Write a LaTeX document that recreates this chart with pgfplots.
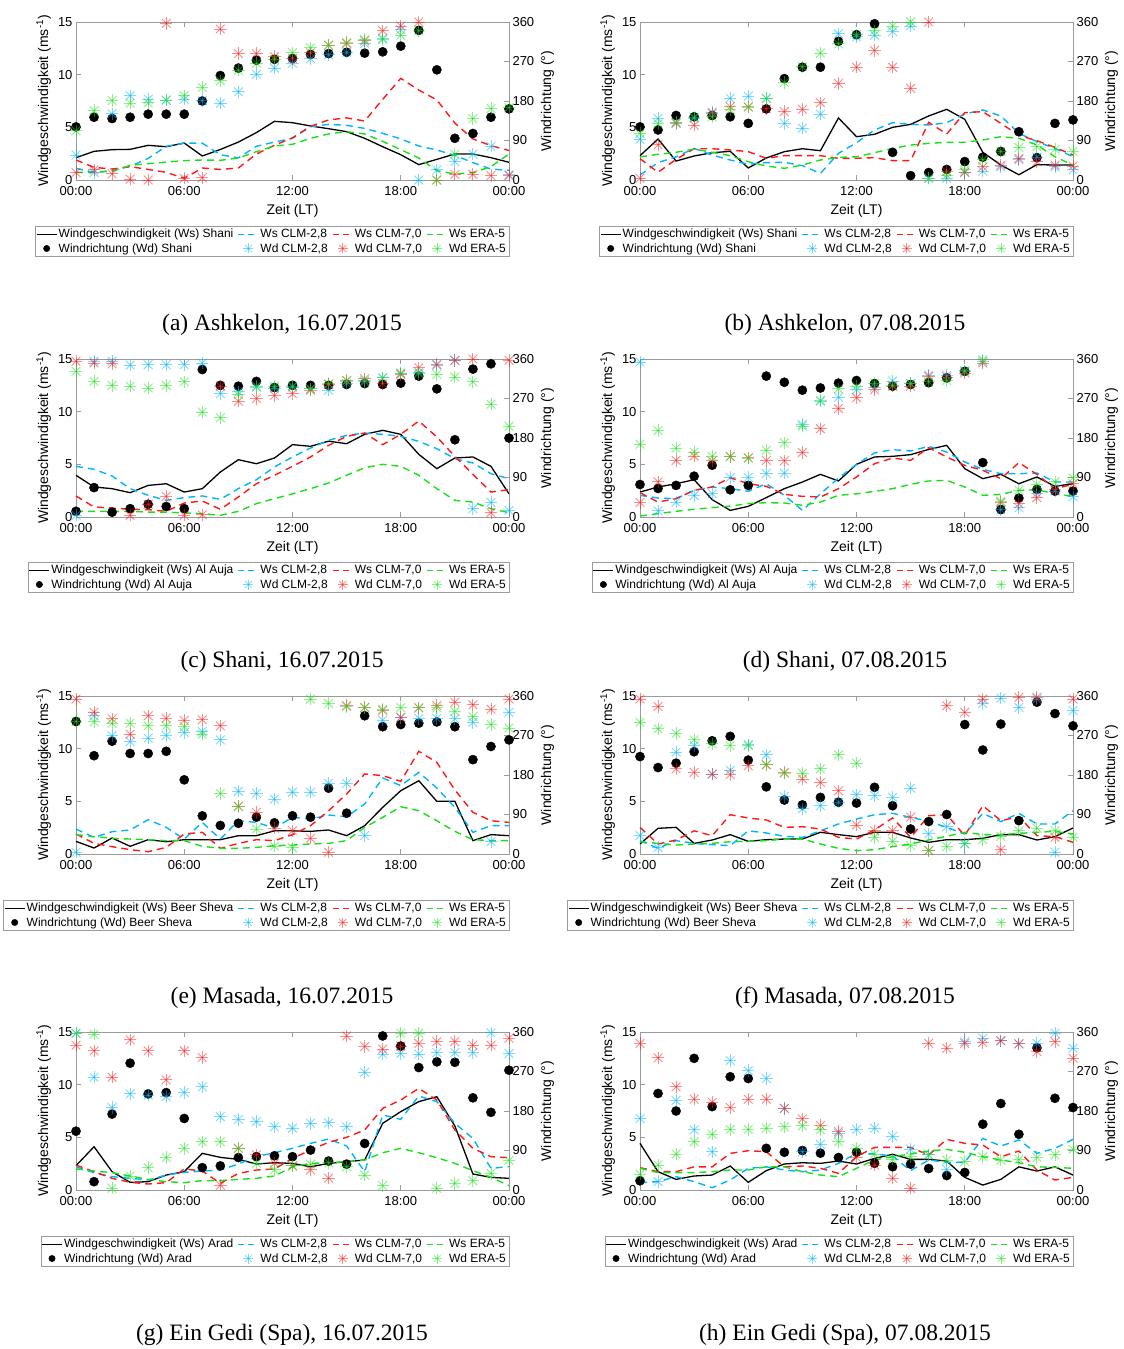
\documentclass[border=0pt]{standalone}
\usepackage{fontspec}
\setmainfont{Liberation Sans}
\newfontfamily\capfont{Liberation Serif}
\usepackage{pgfplots}
\usepackage{pgfplotstable}
\pgfplotsset{compat=1.18}

\definecolor{ccyan}{RGB}{0,180,255}
\definecolor{cred}{RGB}{255,25,25}
\definecolor{cgreen}{RGB}{25,225,25}
\definecolor{axgray}{RGB}{155,155,155}

\pgfdeclareplotmark{ast8}{%
  \pgfpathmoveto{\pgfqpoint{-\pgfplotmarksize}{0pt}}\pgfpathlineto{\pgfqpoint{\pgfplotmarksize}{0pt}}\pgfusepathqstroke
  \pgfpathmoveto{\pgfqpoint{0pt}{-\pgfplotmarksize}}\pgfpathlineto{\pgfqpoint{0pt}{\pgfplotmarksize}}\pgfusepathqstroke
  \pgfpathmoveto{\pgfqpoint{-0.7071\pgfplotmarksize}{-0.7071\pgfplotmarksize}}\pgfpathlineto{\pgfqpoint{0.7071\pgfplotmarksize}{0.7071\pgfplotmarksize}}\pgfusepathqstroke
  \pgfpathmoveto{\pgfqpoint{-0.7071\pgfplotmarksize}{0.7071\pgfplotmarksize}}\pgfpathlineto{\pgfqpoint{0.7071\pgfplotmarksize}{-0.7071\pgfplotmarksize}}\pgfusepathqstroke
}
% legend samples for lines, drawn as marks
\pgfdeclareplotmark{legdash}{%
  \pgfsetdash{{6pt}{4pt}}{0pt}%
  \pgfpathmoveto{\pgfqpoint{-10pt}{0pt}}\pgfpathlineto{\pgfqpoint{10pt}{0pt}}\pgfusepathqstroke
}
\pgfdeclareplotmark{legline}{%
  \pgfpathmoveto{\pgfqpoint{-10pt}{0pt}}\pgfpathlineto{\pgfqpoint{10pt}{0pt}}\pgfusepathqstroke
}

% h ws c r g wd cd rd gd
\pgfplotstableread{
h ws c r g wd cd rd gd
0 2.12 1.10 1.90 0.73 121 57 17 112
1 2.72 0.73 1.20 0.73 143 17 23 158
2 2.88 0.90 1.04 0.82 140 151 14 181
3 2.91 1.30 1.27 1.39 143 192 2 175
4 3.29 2.05 1.00 1.55 150 184 0 176
5 3.16 3.20 0.73 1.70 150 182 357 182
6 3.51 3.50 0.16 1.84 150 184 4 192
7 2.28 3.50 1.14 1.90 180 181 5 211
8 2.90 2.40 1.00 1.87 238 175 344 226
9 3.60 2.10 1.14 2.09 255 201 288 250
10 4.50 3.20 2.47 2.69 273 241 288 266
11 5.57 3.60 3.30 3.23 275 255 281 275
12 5.44 3.96 4.00 3.39 277 266 277 290
13 5.13 5.06 5.10 3.96 286 276 290 301
14 4.87 5.28 5.70 4.37 288 285 307 307
15 4.59 5.19 5.90 4.59 291 291 311 313
16 3.96 4.90 5.60 4.37 289 311 317 320
17 3.16 4.43 7.66 3.67 292 323 340 320
18 2.40 3.90 9.65 2.88 305 343 351 330
19 1.46 3.23 8.54 2.09 341 0 360 340
20 1.96 2.85 7.60 0.89 251 23 0 0
21 2.47 2.34 5.40 0.57 95 42 13 59
22 2.47 1.65 3.90 0.70 106 59 13 140
23 2.12 1.04 3.26 1.27 143 77 10 163
24 1.68 0.92 2.80 2.47 162 12 10 165
}\TabA

\pgfplotstableread{
h ws c r g wd cd rd gd
0 2.31 0.47 2.03 2.20 121 93 4 106
1 3.89 1.65 0.73 2.44 114 140 80 128
2 1.80 2.20 1.96 2.63 147 131 129 132
3 2.28 3.00 2.97 2.94 144 141 125 143
4 2.59 2.37 2.97 2.63 147 155 152 144
5 2.72 1.90 2.85 2.31 144 186 167 160
6 1.14 1.49 2.69 1.74 129 191 167 166
7 2.09 1.65 2.06 1.33 162 186 162 186
8 2.69 1.68 2.31 1.11 231 129 156 222
9 2.97 1.36 2.31 1.42 257 118 161 258
10 2.78 0.63 2.31 1.90 257 150 176 289
11 5.89 2.53 2.06 2.15 316 333 220 310
12 4.11 3.54 2.06 2.20 331 326 257 331
13 4.34 4.75 2.12 2.59 356 330 295 340
14 5.00 5.44 1.84 3.00 63 338 257 351
15 5.28 5.28 1.84 3.32 10 351 209 360
16 6.08 5.22 5.47 3.48 17 4 360 4
17 6.71 5.44 4.37 3.58 24 4 19 11
18 5.76 6.27 6.39 3.58 42 17 18 23
19 2.63 6.65 6.49 3.80 52 20 30 46
20 1.42 6.08 5.38 4.11 65 30 34 65
21 0.50 4.43 4.24 3.96 110 46 49 74
22 1.46 3.64 3.73 3.32 51 52 42 76
23 1.42 3.00 3.10 2.20 129 30 34 70
24 1.42 2.20 2.37 1.42 137 23 32 65
}\TabB

\pgfplotstableread{
h ws c r g wd cd rd gd
0 3.96 4.81 2.00 0.54 13 4 355 332
1 2.85 4.53 0.95 0.54 67 355 351 309
2 2.69 3.89 0.85 0.54 11 355 349 300
3 2.31 2.69 0.73 0.54 19 346 4 298
4 3.00 2.06 0.70 0.47 29 347 29 294
5 3.16 1.58 0.54 0.47 24 347 47 300
6 2.37 1.84 1.33 0.38 19 347 4 308
7 2.69 2.00 1.52 0.32 336 351 5 239
8 4.27 1.68 0.73 0.16 300 281 298 226
9 5.44 2.69 1.90 0.54 298 285 264 279
10 5.06 3.54 3.16 1.27 309 298 270 296
11 5.60 4.75 3.96 1.74 295 294 277 298
12 6.87 5.70 4.81 2.20 300 296 281 298
13 6.71 6.55 5.70 2.69 300 292 289 292
14 7.20 7.28 6.80 3.23 300 289 302 304
15 6.96 7.75 7.66 3.96 302 304 311 310
16 7.85 7.97 7.97 4.68 304 308 315 311
17 8.23 7.85 6.87 5.00 302 317 304 317
18 7.85 7.66 7.85 4.81 305 327 325 328
19 5.95 7.18 9.11 3.96 321 330 340 327
20 4.59 6.49 7.60 2.69 292 346 348 325
21 5.60 5.54 5.76 1.58 176 357 357 319
22 5.70 5.13 4.05 1.42 337 19 360 308
23 4.81 4.11 2.37 0.79 349 33 10 257
24 2.20 3.64 2.59 0.41 180 15 357 207
}\TabC

\pgfplotstableread{
h ws c r g wd cd rd gd
0 2.37 2.06 2.31 0.09 74 353 33 166
1 2.85 1.80 1.42 0.32 65 14 80 197
2 3.16 1.74 1.74 0.54 72 34 129 157
3 3.54 2.53 2.53 0.73 93 49 139 148
4 1.65 2.85 2.85 0.89 118 53 128 138
5 0.63 2.69 3.73 1.04 62 90 138 138
6 1.01 2.44 3.16 1.27 72 90 135 134
7 1.84 3.16 2.91 1.36 321 99 129 152
8 2.69 2.06 2.15 1.33 307 100 128 169
9 3.32 0.63 1.96 1.11 289 211 147 207
10 4.05 2.20 1.90 1.42 294 264 201 266
11 3.42 3.70 2.69 2.06 305 273 247 292
12 5.00 5.00 3.80 2.20 311 290 272 298
13 5.70 6.08 5.06 2.44 304 296 290 305
14 5.76 6.39 5.60 2.69 298 310 298 300
15 5.92 6.27 5.38 3.10 302 304 298 304
16 6.42 6.71 6.58 3.42 306 323 320 308
17 6.80 6.17 5.70 3.48 317 323 319 311
18 4.59 5.22 4.90 2.85 332 332 328 333
19 3.64 4.53 4.43 2.06 124 355 351 358
20 4.05 4.11 3.64 2.15 17 17 33 36
21 3.16 4.11 5.16 2.53 43 21 30 61
22 3.80 4.18 4.05 2.59 63 53 44 74
23 2.91 3.32 2.69 2.20 59 59 62 80
24 3.16 3.32 3.10 1.96 59 46 76 89
}\TabD

\pgfplotstableread{
h ws c r g wd cd rd gd
0 1.20 2.37 1.90 1.84 302 4 353 302
1 0.57 1.58 1.01 1.65 224 315 323 301
2 1.52 2.12 0.70 1.49 257 270 308 298
3 0.73 2.28 0.41 1.42 229 256 273 298
4 1.36 3.26 0.22 1.36 229 264 315 292
5 1.17 2.53 0.63 1.27 234 270 309 292
6 1.36 1.42 1.90 1.27 169 277 304 290
7 1.36 3.00 2.06 0.73 87 279 306 273
8 1.36 1.42 0.54 0.54 65 260 292 138
9 1.74 3.16 1.01 0.54 70 143 109 108
10 1.74 3.00 1.36 0.63 84 138 95 57
11 2.20 2.47 1.27 0.79 71 125 59 18
12 2.20 3.48 1.84 0.85 87 141 53 14
13 2.15 3.32 2.69 0.95 84 141 36 353
14 2.28 3.70 4.11 1.01 150 161 4 343
15 1.74 3.54 5.70 1.27 93 161 338 336
16 2.69 4.75 7.60 2.53 315 42 334 333
17 4.43 7.22 7.44 3.48 290 305 327 330
18 6.01 6.49 6.90 4.49 295 311 311 333
19 6.96 7.75 9.75 4.11 298 309 333 333
20 5.00 6.27 8.70 3.16 301 309 338 333
21 5.00 4.43 6.08 2.15 290 308 346 325
22 1.27 2.06 3.96 1.36 215 300 340 313
23 1.84 2.69 3.16 1.27 245 28 330 295
24 1.74 2.69 3.00 1.27 260 323 353 287
}\TabE

\pgfplotstableread{
h ws c r g wd cd rd gd
0 0.95 1.27 2.53 1.17 222 42 353 300
1 2.44 0.54 0.95 1.01 197 15 336 285
2 2.53 1.27 1.33 0.85 207 232 194 275
3 1.01 1.01 2.20 0.95 233 247 186 260
4 1.33 0.89 1.74 1.01 258 182 182 251
5 1.84 0.79 3.73 1.17 268 191 181 247
6 1.20 2.20 3.42 1.20 214 249 201 247
7 1.36 2.00 3.23 1.27 153 226 203 204
8 1.42 1.68 2.53 1.42 123 131 186 184
9 1.42 1.58 2.59 1.42 112 103 171 184
10 2.06 2.20 2.37 0.95 129 110 163 194
11 1.84 2.85 1.58 0.54 118 118 144 226
12 1.65 3.32 1.42 0.32 116 135 66 207
13 2.06 3.73 2.28 0.41 152 133 53 38
14 2.06 3.86 3.42 0.70 110 129 53 29
15 1.52 3.48 1.58 0.95 57 150 84 19
16 1.11 3.10 3.64 1.33 74 46 8 8
17 1.36 2.53 3.73 1.68 90 62 338 17
18 1.36 1.90 1.74 2.06 295 23 323 24
19 1.49 3.86 4.59 1.84 237 343 353 33
20 1.84 3.07 3.16 1.84 296 355 10 40
21 1.84 3.86 3.54 1.96 76 334 357 53
22 1.33 2.85 1.74 2.06 346 353 357 59
23 1.65 2.85 1.65 2.15 320 4 38 53
24 2.47 4.11 1.11 1.90 292 327 353 38
}\TabF

\pgfplotstableread{
h ws c r g wd cd rd gd
0 2.31 2.20 2.37 2.00 134 357 330 357
1 4.11 1.65 1.74 1.80 19 257 317 355
2 1.74 1.27 1.11 1.65 173 188 257 4
3 0.73 1.11 0.73 1.33 289 219 342 32
4 0.79 0.95 0.57 1.01 219 216 317 51
5 1.42 1.42 0.70 0.79 222 213 251 74
6 1.74 1.68 2.00 0.70 163 222 317 95
7 3.48 1.80 1.80 0.89 51 235 302 110
8 3.10 1.90 0.63 0.89 55 167 11 110
9 2.91 2.47 1.58 1.01 74 161 95 95
10 2.47 3.16 1.90 1.11 76 156 80 61
11 2.59 3.54 2.00 1.33 78 144 61 46
12 2.53 3.96 3.00 2.20 76 141 55 55
13 2.20 4.43 3.80 2.53 91 152 46 59
14 2.53 4.84 4.53 2.59 66 153 27 62
15 2.69 4.18 5.00 2.69 59 144 351 53
16 2.85 1.74 5.70 2.85 106 268 327 34
17 6.33 7.12 7.75 3.54 351 310 321 10
18 7.44 6.71 8.54 3.96 328 311 328 357
19 8.39 8.92 9.65 3.54 279 310 334 357
20 8.86 8.39 8.54 3.07 292 313 338 4
21 6.08 6.33 5.70 2.53 291 313 338 15
22 1.52 4.90 3.96 1.84 210 313 330 21
23 1.20 2.06 3.16 1.20 177 358 330 38
24 1.11 2.22 3.07 0.41 273 311 346 67
}\TabG

\pgfplotstableread{
h ws c r g wd cd rd gd
0 4.43 0.70 2.12 2.06 21 163 334 36
1 1.74 0.79 1.74 1.65 220 19 301 57
2 1.01 1.27 1.74 1.65 180 204 235 82
3 1.33 0.79 2.20 1.65 300 137 207 110
4 1.42 0.22 2.20 1.74 190 87 200 127
5 2.28 0.95 3.48 1.90 258 295 188 138
6 0.73 2.06 3.73 1.90 254 272 207 138
7 1.84 2.20 3.64 2.20 95 254 207 141
8 2.47 1.90 2.20 2.20 86 186 186 144
9 2.59 1.74 2.28 1.74 90 87 162 146
10 2.53 1.90 2.06 1.42 84 104 147 137
11 2.75 2.53 1.58 1.27 74 129 133 110
12 2.47 3.48 3.16 2.06 86 138 74 95
13 3.00 3.42 4.05 2.85 61 141 57 82
14 3.39 3.23 4.05 3.16 53 122 27 70
15 2.91 1.84 4.05 3.42 59 93 4 76
16 2.91 2.85 3.32 3.70 49 80 334 80
17 2.75 2.63 4.81 3.86 33 47 323 68
18 1.20 2.63 4.43 3.58 40 338 334 65
19 0.47 4.90 4.27 3.16 150 346 336 76
20 1.01 4.18 3.16 2.85 197 340 340 68
21 2.20 4.75 3.70 2.59 127 333 333 70
22 1.80 3.48 1.90 2.20 324 334 315 74
23 2.20 3.96 0.95 2.15 209 357 338 80
24 1.42 4.81 1.20 2.06 188 323 300 93
}\TabH

\pgfplotsset{
  wsl/.style={draw=black, line width=1.3pt, no marks},
  cl/.style={draw=ccyan, line width=1.4pt, dash pattern=on 7pt off 5pt, no marks},
  rl/.style={draw=cred, line width=1.4pt, dash pattern=on 7pt off 5pt, no marks},
  gl/.style={draw=cgreen, line width=1.4pt, dash pattern=on 7pt off 5pt, no marks},
  wdm/.style={only marks, mark=*, mark size=4.6pt, mark options={solid, draw=black, fill=black}},
  cm/.style={only marks, mark=ast8, mark size=6.2pt, mark options={solid, draw=ccyan, draw opacity=0.5, line width=0.9pt}},
  rm/.style={only marks, mark=ast8, mark size=6.2pt, mark options={solid, draw=cred, draw opacity=0.5, line width=0.9pt}},
  gm/.style={only marks, mark=ast8, mark size=6.2pt, mark options={solid, draw=cgreen, draw opacity=0.5, line width=0.9pt}},
  common/.style={
    scale only axis, width=433pt, height=158pt, anchor=south west,
    xmin=0, xmax=24, clip=false,
    axis line style={draw=axgray, line width=0.7pt},
    tick style={draw=axgray, line width=0.7pt},
    tick align=inside, major tick length=5pt,
    tick label style={font=\fontsize{13}{13}\selectfont},
    label style={font=\fontsize{14}{14}\selectfont},
    /pgf/number format/assume math mode=true,
  },
  leftax/.style={common,
    ymin=0, ymax=15, ytick={0,5,10,15}, ytick pos=left,
    xtick={0,6,12,18,24}, xticklabels={00:00,06:00,12:00,18:00,00:00},
    xticklabel style={yshift=-3pt},
    xlabel style={yshift=-2pt},
    xlabel={Zeit (LT)}, ylabel={Windgeschwindigkeit (ms\textsuperscript{-1})},
    legend columns=4, legend cell align=left,
    legend style={at={(1,0)}, anchor=north east,
      font=\fontsize{12}{13.5}\selectfont, draw=axgray, inner sep=1pt,
      nodes={inner xsep=2pt},
      /tikz/every even column/.append style={column sep=3pt}},
    legend image code/.code={\draw[mark repeat=2,mark phase=2,##1] plot coordinates {(0pt,0pt) (10pt,0pt) (20pt,0pt)};},
  },
  rightax/.style={common,
    ymin=0, ymax=360, ytick={0,90,180,270,360},
    axis x line=none, axis y line*=right,
    ylabel={Windrichtung (°)},
  },
}

% #1 x, #2 y (bottom-left of plot area), #3 table, #4 station, #5 legend shift
\newcommand{\panel}[5]{%
\begin{axis}[leftax, at={(#1pt,-#2pt)}, legend style={yshift=-#5pt}]
\addplot[wsl, forget plot] table[x=h,y=ws]{#3};
\addplot[cl, forget plot] table[x=h,y=c]{#3};
\addplot[rl, forget plot] table[x=h,y=r]{#3};
\addplot[gl, forget plot] table[x=h,y=g]{#3};
\addlegendimage{only marks, mark=legline, mark options={solid, draw=black, line width=1.4pt}}\addlegendentry{Windgeschwindigkeit (Ws) #4}
\addlegendimage{only marks, mark=legdash, mark options={solid, draw=ccyan, line width=1.6pt}}\addlegendentry{Ws CLM-2,8}
\addlegendimage{only marks, mark=legdash, mark options={solid, draw=cred, line width=1.6pt}}\addlegendentry{Ws CLM-7,0}
\addlegendimage{only marks, mark=legdash, mark options={solid, draw=cgreen, line width=1.6pt}}\addlegendentry{Ws ERA-5}
\addlegendimage{only marks, mark=*, mark size=3.2pt, mark options={solid, draw=black, fill=black}}\addlegendentry{Windrichtung (Wd) #4}
\addlegendimage{only marks, mark=ast8, mark size=5pt, mark options={solid, draw=ccyan, draw opacity=0.5, line width=0.8pt}}\addlegendentry{Wd CLM-2,8}
\addlegendimage{only marks, mark=ast8, mark size=5pt, mark options={solid, draw=cred, draw opacity=0.5, line width=0.8pt}}\addlegendentry{Wd CLM-7,0}
\addlegendimage{only marks, mark=ast8, mark size=5pt, mark options={solid, draw=cgreen, draw opacity=0.5, line width=0.8pt}}\addlegendentry{Wd ERA-5}
\end{axis}
\begin{axis}[rightax, at={(#1pt,-#2pt)}]
\addplot[wdm] table[x=h,y=wd]{#3};
\addplot[cm] table[x=h,y=cd]{#3};
\addplot[rm] table[x=h,y=rd]{#3};
\addplot[gm] table[x=h,y=gd]{#3};
\end{axis}}

\begin{document}
\begin{tikzpicture}
\useasboundingbox (0pt,0pt) rectangle (1124pt,-1349pt);
\panel{76}{180}{\TabA}{Shani}{46}
\panel{640}{180}{\TabB}{Shani}{46}
\panel{76}{517}{\TabC}{Al Auja}{45}
\panel{640}{517}{\TabD}{Al Auja}{45}
\panel{76}{854}{\TabE}{Beer Sheva}{46}
\panel{640}{854}{\TabF}{Beer Sheva}{46}
\panel{76}{1190}{\TabG}{Arad}{46}
\panel{640}{1190}{\TabH}{Arad}{46}
\begin{scope}[every node/.style={font=\capfont\fontsize{23.5}{24}\selectfont}]
\node at (282pt,-325pt) {(a) Ashkelon, 16.07.2015};
\node at (845pt,-325pt) {(b) Ashkelon, 07.08.2015};
\node at (282pt,-662pt) {(c) Shani, 16.07.2015};
\node at (845pt,-662pt) {(d) Shani, 07.08.2015};
\node at (282pt,-998pt) {(e) Masada, 16.07.2015};
\node at (845pt,-998pt) {(f) Masada, 07.08.2015};
\node at (282pt,-1335pt) {(g) Ein Gedi (Spa), 16.07.2015};
\node at (845pt,-1335pt) {(h) Ein Gedi (Spa), 07.08.2015};
\end{scope}
\end{tikzpicture}
\end{document}
